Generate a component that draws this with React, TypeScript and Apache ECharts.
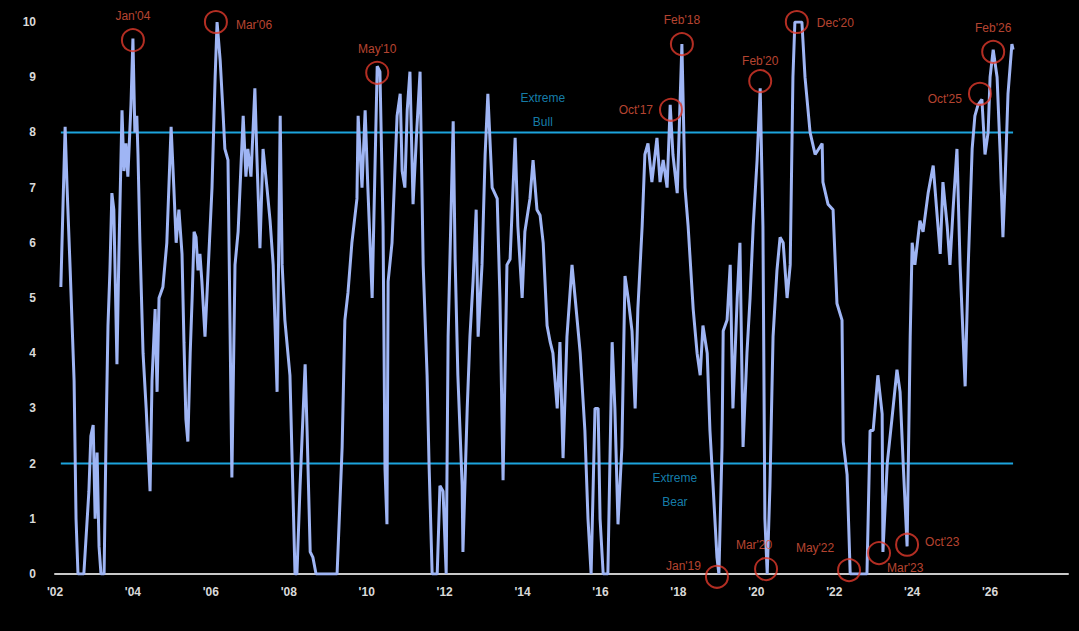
import React, { useEffect, useRef } from "react";
import * as echarts from "echarts";

// decimal years
const dates: number[] = [
  2002.15, 2002.21, 2002.26, 2002.31, 2002.39, 2002.49, 2002.54, 2002.59, 2002.74, 2002.87,
  2002.92, 2002.98, 2003.03, 2003.08, 2003.13, 2003.18, 2003.26, 2003.31, 2003.36, 2003.41,
  2003.46, 2003.51, 2003.59, 2003.64, 2003.72, 2003.77, 2003.82, 2003.87, 2003.95, 2004.0,
  2004.05, 2004.1, 2004.13, 2004.18, 2004.26, 2004.34, 2004.44, 2004.49, 2004.57, 2004.62,
  2004.67, 2004.77, 2004.87, 2004.98, 2005.05, 2005.11, 2005.18, 2005.26, 2005.31, 2005.36,
  2005.41, 2005.47, 2005.52, 2005.57, 2005.62, 2005.67, 2005.72, 2005.77, 2005.85, 2005.93,
  2006.03, 2006.11, 2006.16, 2006.24, 2006.31, 2006.36, 2006.44, 2006.54, 2006.62, 2006.7,
  2006.83, 2006.9, 2006.95, 2007.03, 2007.13, 2007.18, 2007.26, 2007.34, 2007.44, 2007.52,
  2007.6, 2007.7, 2007.78, 2007.83, 2007.9, 2008.03, 2008.11, 2008.16, 2008.21, 2008.29,
  2008.42, 2008.47, 2008.55, 2008.62, 2008.7, 2009.24, 2009.37, 2009.44, 2009.52, 2009.62,
  2009.75, 2009.78, 2009.88, 2009.96, 2010.03, 2010.14, 2010.27, 2010.34, 2010.42, 2010.47,
  2010.52, 2010.55, 2010.65, 2010.78, 2010.86, 2010.91, 2010.98, 2011.04, 2011.11, 2011.19,
  2011.29, 2011.37, 2011.45, 2011.55, 2011.6, 2011.68, 2011.81, 2011.88, 2011.96, 2012.04,
  2012.09, 2012.22, 2012.27, 2012.34, 2012.45, 2012.47, 2012.58, 2012.65, 2012.73, 2012.81,
  2012.86, 2012.96, 2013.04, 2013.11, 2013.22, 2013.35, 2013.42, 2013.5, 2013.6, 2013.68,
  2013.81, 2013.88, 2013.99, 2014.06, 2014.19, 2014.27, 2014.37, 2014.45, 2014.53, 2014.63,
  2014.71, 2014.78, 2014.89, 2014.96, 2015.04, 2015.14, 2015.27, 2015.35, 2015.48, 2015.6,
  2015.68, 2015.76, 2015.86, 2015.94, 2015.99, 2016.07, 2016.19, 2016.3, 2016.37, 2016.45,
  2016.55, 2016.63, 2016.71, 2016.81, 2016.89, 2016.96, 2017.07, 2017.14, 2017.22, 2017.32,
  2017.45, 2017.53, 2017.61, 2017.71, 2017.79, 2017.86, 2017.97, 2018.09, 2018.17, 2018.25,
  2018.38, 2018.48, 2018.56, 2018.63, 2018.74, 2018.81, 2018.89, 2018.99, 2019.04, 2019.12,
  2019.15, 2019.25, 2019.33, 2019.4, 2019.51, 2019.58, 2019.66, 2019.76, 2019.84, 2019.92,
  2020.02, 2020.1, 2020.17, 2020.22, 2020.28, 2020.35, 2020.43, 2020.53, 2020.61, 2020.69,
  2020.79, 2020.87, 2020.94, 2020.99, 2021.17, 2021.25, 2021.38, 2021.51, 2021.69, 2021.71,
  2021.84, 2021.97, 2022.07, 2022.2, 2022.23, 2022.33, 2022.41, 2022.84, 2022.92, 2023.0,
  2023.12, 2023.23, 2023.25, 2023.36, 2023.48, 2023.61, 2023.69, 2023.77, 2023.87, 2023.95,
  2024.0, 2024.07, 2024.2, 2024.28, 2024.41, 2024.54, 2024.64, 2024.72, 2024.79, 2024.9,
  2024.97, 2025.05, 2025.15, 2025.23, 2025.36, 2025.44, 2025.54, 2025.61, 2025.69, 2025.79,
  2025.87, 2025.95, 2026.0, 2026.08, 2026.18, 2026.26, 2026.33, 2026.38, 2026.46, 2026.56,
  2026.59,
];

const values: number[] = [
  5.2, 6.8, 8.1, 7.0, 5.5, 3.5, 1.0, 0, 0, 1.5,
  2.5, 2.7, 1.0, 2.2, 0.5, 0, 0, 2.5, 4.5, 5.5,
  6.9, 6.6, 3.8, 5.8, 8.4, 7.3, 7.8, 7.2, 8.5, 9.7,
  8.0, 8.3, 7.6, 6.0, 4.0, 3.0, 1.5, 3.5, 4.8, 3.3,
  5.0, 5.2, 6.0, 8.1, 7.0, 6.0, 6.6, 5.8, 4.2, 2.8,
  2.4, 4.0, 5.0, 6.2, 6.1, 5.5, 5.8, 5.3, 4.3, 5.5,
  7.0, 9.0, 10.0, 9.3, 8.4, 7.7, 7.5, 1.75, 5.6, 6.2,
  8.3, 7.2, 7.7, 7.2, 8.8, 7.6, 5.9, 7.7, 7.0, 6.4,
  5.6, 3.3, 8.3, 5.6, 4.6, 3.6, 1.4, 0, 0, 1.6,
  3.8, 2.6, 0.4, 0.3, 0, 0, 2.3, 4.6, 5.1, 6.0,
  6.8, 8.3, 7.0, 8.4, 7.0, 5.0, 9.2, 9.1, 6.3, 1.9,
  0.9, 5.3, 6.0, 8.3, 8.7, 7.3, 7.0, 8.4, 9.1, 6.7,
  8.1, 9.1, 5.6, 3.6, 2.0, 0, 0, 1.6, 1.5, 0,
  4.3, 8.2, 5.7, 3.6, 1.6, 0.4, 3.0, 4.3, 5.3, 6.6,
  4.3, 5.6, 7.6, 8.7, 7.0, 6.8, 5.0, 1.7, 5.6, 5.7,
  7.9, 6.3, 5.0, 6.2, 6.8, 7.5, 6.6, 6.5, 6.0, 4.5,
  4.2, 4.0, 3.0, 4.2, 2.1, 4.3, 5.6, 5.0, 4.0, 2.6,
  1.0, 0, 3.0, 3.0, 1.0, 0, 0, 4.2, 3.0, 0.9,
  2.3, 5.4, 5.0, 4.4, 3.0, 4.8, 6.3, 7.6, 7.8, 7.1,
  7.9, 7.1, 7.5, 7.0, 8.5, 7.6, 6.9, 9.6, 7.0, 6.3,
  4.8, 4.0, 3.6, 4.5, 4.0, 2.6, 1.6, 0.3, 0, 2.3,
  4.4, 4.6, 5.6, 3.0, 5.0, 6.0, 2.3, 4.0, 5.0, 6.3,
  7.5, 8.8, 6.3, 1.0, 0, 1.6, 4.3, 5.5, 6.1, 6.0,
  5.0, 5.6, 9.0, 10.0, 10.0, 9.0, 8.0, 7.6, 7.8, 7.1,
  6.7, 6.6, 4.9, 4.6, 2.4, 1.8, 0, 0, 2.6, 2.6,
  3.6, 2.9, 0.4, 2.0, 2.8, 3.7, 3.3, 2.0, 0.5, 4.3,
  6.0, 5.6, 6.4, 6.2, 6.9, 7.4, 6.5, 5.8, 7.1, 6.3,
  5.6, 6.6, 7.7, 5.6, 3.4, 5.6, 7.7, 8.3, 8.5, 8.6,
  7.6, 8.0, 9.0, 9.5, 9.0, 7.6, 6.1, 7.0, 8.7, 9.6,
  9.5,
];

const bullLevel = 8;
const bearLevel = 2;

const annLabels: string[] = [
  "Jan'04", "Mar'06", "May'10", "Oct'17", "Feb'18", "Feb'20", "Dec'20",
  "Oct'25", "Feb'26", "Jan'19", "Mar'20", "May'22", "Mar'23", "Oct'23",
];
const annDates: number[] = [
  2004.0, 2006.13, 2010.27, 2017.81, 2018.09, 2020.1, 2021.04,
  2025.74, 2026.08, 2018.99, 2020.25, 2022.38, 2023.15, 2023.87,
];
const annValues: number[] = [
  9.67, 10.0, 9.08, 8.41, 9.6, 8.93, 10.0,
  8.7, 9.46, -0.05, 0.09, 0.07, 0.38, 0.53,
];

const yTicks = [0, 10];
const xRange = [2002, 2028];

// label placement styles per annotation (index aligned)
const annLabelStyle: any[] = [
  { position: "top", distance: 6 },
  { position: "right", distance: 8, offset: [0, 3] },
  { position: "top", distance: 6 },
  { position: "left", distance: 6 },
  { position: "top", distance: 6 },
  { position: "top", distance: 2 },
  { position: "right", distance: 8, offset: [0, 1] },
  { position: "left", distance: 6, offset: [0, 5] },
  { position: "top", distance: 6 },
  { position: "left", distance: 4, offset: [0, -11] },
  { position: "top", distance: 6, offset: [-12, 0] },
  { position: "top", distance: 4, offset: [-34, 0] },
  { position: "right", distance: 0, offset: [-4, 15] },
  { position: "right", distance: 6, offset: [0, -3] },
];

export default function App() {
  const ref = useRef<HTMLDivElement>(null);
  useEffect(() => {
    if (!ref.current) return;
    const chart = echarts.init(ref.current, null, { renderer: "svg" });
    const lineData = dates.map((d, i) => [d, values[i]]);
    const first = dates[0];
    const last = dates[dates.length - 1];
    const annData = annLabels.map((t, i) => ({
      value: [annDates[i], annValues[i]],
      name: t,
      label: {
        show: true,
        formatter: t,
        color: "#e5583f",
        fontSize: 12,
        fontFamily: "Liberation Sans",
        ...annLabelStyle[i],
      },
    }));
    const option: any = {
      animation: false,
      backgroundColor: "#000000",
      grid: { left: 55, right: 11, top: 22, bottom: 57 },
      xAxis: {
        type: "value",
        min: xRange[0],
        max: xRange[1],
        interval: 2,
        axisLine: { show: true, lineStyle: { color: "#c9c9c9", width: 2 } },
        axisTick: { show: false },
        splitLine: { show: false },
        axisLabel: {
          color: "#d9d9d9",
          fontSize: 12,
          fontWeight: "bold",
          fontFamily: "Liberation Sans",
          margin: 12,
          showMaxLabel: false,
          formatter: (v: number) => "'" + String(v).slice(2),
        },
      },
      yAxis: {
        type: "value",
        min: yTicks[0],
        max: yTicks[1],
        interval: 1,
        axisLine: { show: false },
        axisTick: { show: false },
        splitLine: { show: false },
        axisLabel: {
          color: "#d9d9d9",
          fontSize: 12,
          fontWeight: "bold",
          fontFamily: "Liberation Sans",
          margin: 19,
        },
      },
      series: [
        {
          type: "line",
          data: [[first, bullLevel], [last, bullLevel]],
          showSymbol: false,
          lineStyle: { color: "#1ca4dd", width: 2 },
          z: 1,
          silent: true,
        },
        {
          type: "line",
          data: [[first, bearLevel], [last, bearLevel]],
          showSymbol: false,
          lineStyle: { color: "#1ca4dd", width: 2 },
          z: 1,
          silent: true,
        },
        {
          type: "line",
          data: lineData,
          showSymbol: false,
          lineStyle: { color: "#9fb5f4", width: 3 },
          z: 2,
        },
        {
          type: "scatter",
          data: annData,
          symbol: "circle",
          symbolSize: 22,
          clip: false,
          itemStyle: { color: "rgba(0,0,0,0)", borderColor: "#e03a2c", borderWidth: 2 },
          z: 5,
        },
        {
          type: "scatter",
          symbolSize: 0,
          clip: false,
          data: [
            { value: [2014.52, 8.4], label: { formatter: "Extreme\nBull" } },
            { value: [2017.91, 1.52], label: { formatter: "Extreme\nBear" } },
          ],
          label: {
            show: true,
            position: "inside",
            color: "#1c9fd6",
            fontSize: 12,
            lineHeight: 24,
            fontFamily: "Liberation Sans",
          },
          z: 4,
        },
      ],
    };
    chart.setOption(option);
    return () => chart.dispose();
  }, []);
  return (
    <div
      ref={ref}
      style={{ position: "fixed", left: 0, top: 0, width: 1079, height: 631, background: "#000" }}
    />
  );
}
